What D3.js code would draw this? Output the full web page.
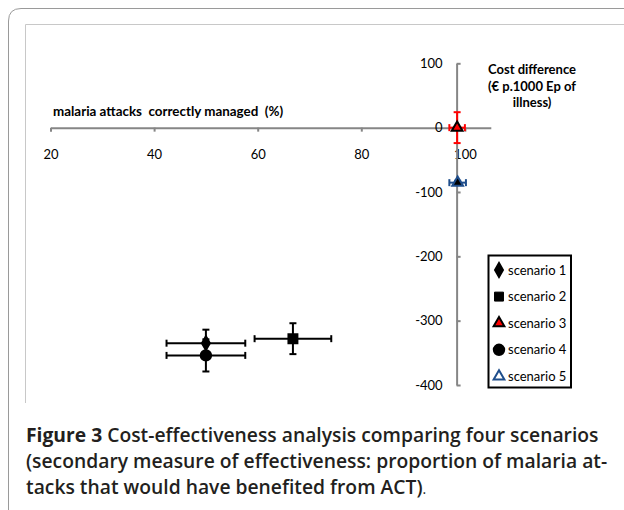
<!DOCTYPE html>
<html>
<head>
  <meta charset="utf-8">
  <title>Figure 3</title>
  <script src="https://d3js.org/d3.v7.min.js"></script>
  <style>
    body, html { margin: 0; padding: 0; background: #fff; }
    .axis path, .axis line { stroke: #868686; stroke-width: 2; }
    .axis text { font-family: "Lato", sans-serif; font-size: 13px; fill: #000; }
    .title { font-family: "Lato", sans-serif; font-weight: bold; font-size: 13px; fill: #000; }
    .legend text { font-family: "Lato", sans-serif; font-size: 13px; fill: #000; }
    .caption { font-family: "Open Sans", sans-serif; font-size: 19.3px; fill: #231f20; }
  </style>
</head>
<body>
  <div id="chart"></div>

  <script>
    // data
    const scenarios = ["scenario 1", "scenario 2", "scenario 3", "scenario 4", "scenario 5"]
    const effect = [50, 66.8, 98.5, 50, 98.6]        // malaria attacks correctly managed (%)
    const cost = [-335, -328, 0, -354, -85.5]         // cost difference
    const effectErr = [7.6, 7.4, 1.5, 7.6, 1.6]
    const costErr = [21, 24, 24, 25, 3]
    const xTicks = [20, 40, 60, 80, 100]
    const yTicks = [100, 0, -100, -200, -300, -400]

    const shapes = [d3.symbolDiamond, d3.symbolSquare, d3.symbolTriangle, d3.symbolCircle, d3.symbolTriangle]
    const sizes = [55, 80, 50, 85, 50]
    const fills = ["#000", "#000", "#ff0000", "#000", "#000"]
    const strokes = ["#000", "#000", "#000", "#000", "#1f4e8c"]
    const barColors = ["#000", "#000", "#ff0000", "#000", "#1f4e8c"]

    const W = 624, H = 510
    const svg = d3.select("#chart").append("svg")
      .attr("width", W)
      .attr("height", H)

    // frames
    svg.append("path")
      .attr("d", "M8.5,520 L8.5,21 Q8.5,8.5 21,8.5 L640,8.5")
      .attr("fill", "none")
      .attr("stroke", "#9a9a9a")
      .attr("stroke-width", 1)
    svg.append("path")
      .attr("d", "M25.5,403 L25.5,24.5 L640,24.5")
      .attr("fill", "none")
      .attr("stroke", "#c8c8c8")
      .attr("stroke-width", 1)

    const x = d3.scaleLinear().domain([20, 105]).range([50.5, 490.8])
    const y = d3.scaleLinear().domain([-400, 100]).range([385, 63.3])
    const yCross = 98.4

    // x axis
    svg.append("g")
      .attr("class", "axis")
      .attr("transform", `translate(0,${y(0)})`)
      .call(d3.axisBottom(x).tickValues(xTicks).tickFormat(d => String(d)).tickSize(4).tickSizeOuter(0).tickPadding(18))

    // y axis
    svg.append("g")
      .attr("class", "axis")
      .attr("transform", `translate(${x(yCross)},0)`)
      .call(d3.axisRight(y).tickValues(yTicks).tickFormat(d => String(d)).tickSize(4).tickSizeOuter(0))
      .selectAll(".tick text")
      .attr("x", -14)
      .attr("text-anchor", "end")

    // axis titles
    svg.append("text")
      .attr("class", "title")
      .attr("x", 53)
      .attr("y", 116)
      .attr("xml:space", "preserve")
      .style("font-size", "13.4px")
      .text("malaria attacks  correctly managed  (%)")
    const yt = svg.append("text")
      .attr("class", "title")
      .attr("text-anchor", "middle")
    ;["Cost difference", "(€ p.1000 Ep of", "illness)"].forEach((s, i) => {
      yt.append("tspan").attr("x", 532).attr("y", 74 + i * 16.7).text(s)
    })

    // error bars
    const cap = 3.5
    const bars = svg.append("g")
    scenarios.forEach((s, i) => {
      const g = bars.append("g")
        .attr("stroke", barColors[i])
        .attr("stroke-width", 2)
        .attr("fill", "none")
      const cx = x(effect[i]), cy = y(cost[i])
      const x0 = x(effect[i] - effectErr[i]), x1 = x(effect[i] + effectErr[i])
      const y0 = y(cost[i] - costErr[i]), y1 = y(cost[i] + costErr[i])
      g.append("line").attr("x1", x0).attr("x2", x1).attr("y1", cy).attr("y2", cy)
      g.append("line").attr("x1", x0).attr("x2", x0).attr("y1", cy - cap).attr("y2", cy + cap)
      g.append("line").attr("x1", x1).attr("x2", x1).attr("y1", cy - cap).attr("y2", cy + cap)
      g.append("line").attr("x1", cx).attr("x2", cx).attr("y1", y0).attr("y2", y1)
      g.append("line").attr("x1", cx - cap).attr("x2", cx + cap).attr("y1", y0).attr("y2", y0)
      g.append("line").attr("x1", cx - cap).attr("x2", cx + cap).attr("y1", y1).attr("y2", y1)
    })

    // markers
    svg.append("g").selectAll("path")
      .data(scenarios)
      .enter()
      .append("path")
      .attr("transform", (d, i) => `translate(${x(effect[i])},${y(cost[i])})`)
      .attr("d", (d, i) => d3.symbol().type(shapes[i]).size(sizes[i])())
      .attr("fill", (d, i) => fills[i])
      .attr("stroke", (d, i) => strokes[i])
      .attr("stroke-width", 2)

    // legend
    const legend = svg.append("g").attr("class", "legend")
    legend.append("rect")
      .attr("x", 488.5)
      .attr("y", 255.5)
      .attr("width", 82.5)
      .attr("height", 132)
      .attr("fill", "#fff")
      .attr("stroke", "#000")
      .attr("stroke-width", 2)
    const items = legend.selectAll("g.item")
      .data(scenarios)
      .enter()
      .append("g")
      .attr("class", "item")
      .attr("transform", (d, i) => `translate(499,${270 + i * 26.6})`)
    items.append("path")
      .attr("d", (d, i) => d3.symbol().type(shapes[i]).size(sizes[i])())
      .attr("fill", (d, i) => i === 4 ? "#fff" : fills[i])
      .attr("stroke", (d, i) => strokes[i])
      .attr("stroke-width", (d, i) => i === 1 ? 1 : 2)
    items.append("text")
      .attr("x", 9)
      .attr("y", 4.5)
      .text(d => d)

    // caption
    const cap1 = svg.append("text").attr("class", "caption").attr("x", 26).attr("y", 442)
    cap1.append("tspan").attr("font-weight", 700).text("Figure 3 ")
    cap1.append("tspan").attr("font-weight", 600).text("Cost-effectiveness analysis comparing four scenarios")
    svg.append("text").attr("class", "caption").attr("x", 26).attr("y", 468)
      .attr("font-weight", 600)
      .text("(secondary measure of effectiveness: proportion of malaria at-")
    const cap3 = svg.append("text").attr("class", "caption").attr("x", 26).attr("y", 494)
    cap3.append("tspan").attr("font-weight", 600).text("tacks that would have benefited from ACT)")
    cap3.append("tspan").attr("font-size", "14px").attr("font-weight", 400).text(".")
  </script>
</body>
</html>
